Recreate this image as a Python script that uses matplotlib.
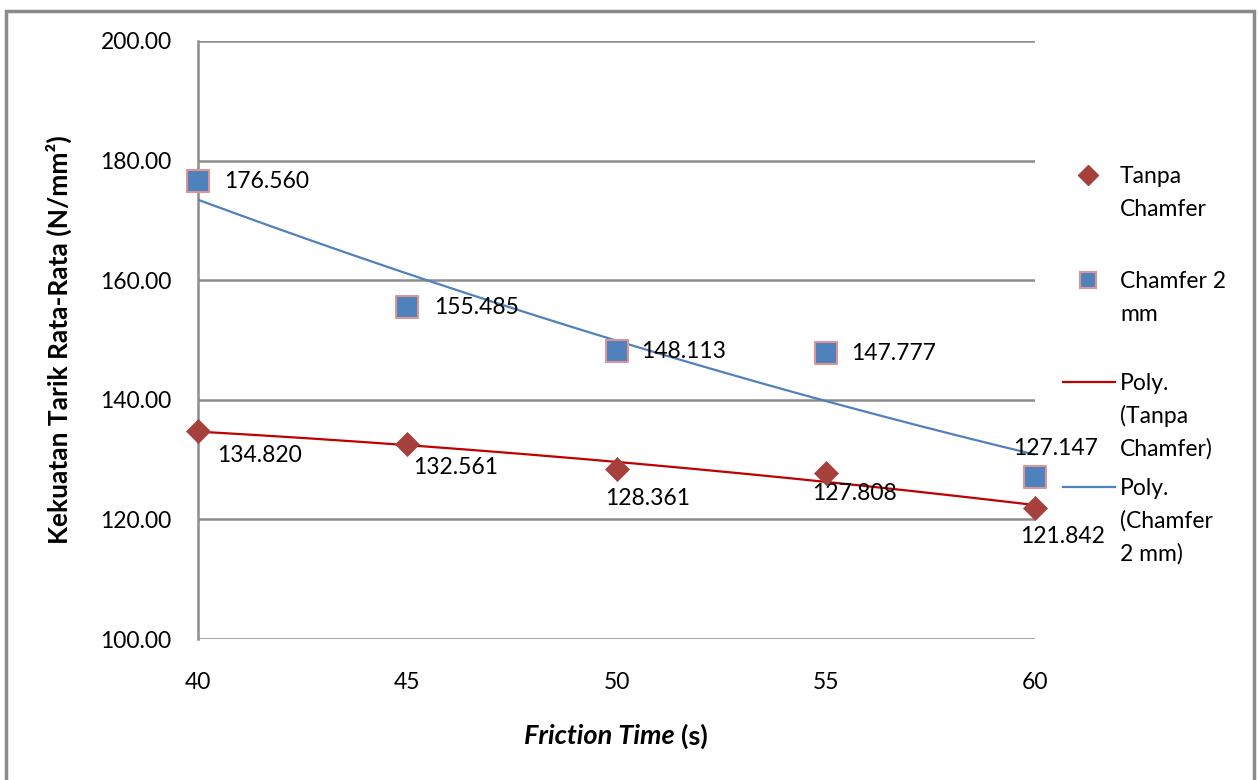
import numpy as np
import matplotlib.pyplot as plt
from matplotlib.patches import Rectangle
from matplotlib.lines import Line2D

plt.rcParams['font.family'] = ['Lato', 'DejaVu Sans']

friction_time = [40, 45, 50, 55, 60]
tanpa_chamfer = [134.820, 132.561, 128.361, 127.808, 121.842]
chamfer_2mm = [176.560, 155.485, 148.113, 147.777, 127.147]
y_ticks = [100, 120, 140, 160, 180, 200]
legend_labels = ['Tanpa\nChamfer', 'Chamfer 2\nmm', 'Poly.\n(Tanpa\nChamfer)', 'Poly.\n(Chamfer\n2 mm)']

# data label offsets in points (dx, dy) relative to each marker
red_offsets = [(14, -18), (4, -17), (-8, -21), (-10, -15), (-11, -20)]
blue_offsets = [(19, 0), (19, 0), (18, 0), (18, 0), (-16, 20)]

red = '#a5403c'
red_line = '#c00000'
blue = '#4f81bd'
blue_edge = '#d99694'
grid_gray = '#8c8c8c'
fs = 16.5
W, H = 1259, 780

fig = plt.figure(figsize=(W / 100, H / 100), dpi=100)
ax = fig.add_axes([198 / W, 1 - 639 / H, (1035 - 198) / W, (639 - 41) / H])

# chart border
fig.patches.append(Rectangle((6 / W, -0.01), 1248 / W, 1 - 11 / H + 0.01,
                             transform=fig.transFigure, fill=False,
                             edgecolor='#8a8a8a', linewidth=2.5))

# polynomial (order 2) trend lines
xs = np.linspace(40, 60, 200)
p_red = np.polyfit(friction_time, tanpa_chamfer, 2)
p_blue = np.polyfit(friction_time, chamfer_2mm, 2)
ax.plot(xs, np.polyval(p_red, xs), color=red_line, lw=1.6, zorder=3)
ax.plot(xs, np.polyval(p_blue, xs), color=blue, lw=1.6, zorder=3)

ax.scatter(friction_time, tanpa_chamfer, marker='D', s=150, color=red,
           edgecolors=red, linewidths=0.5, zorder=4, clip_on=False)
ax.scatter(friction_time, chamfer_2mm, marker='s', s=230, color=blue,
           edgecolors=blue_edge, linewidths=1.5, zorder=4, clip_on=False)

for x, y, (dx, dy) in zip(friction_time, tanpa_chamfer, red_offsets):
    ax.annotate(f'{y:.3f}', (x, y), xytext=(dx, dy), textcoords='offset points',
                ha='left', va='center', fontsize=fs, zorder=5)
for x, y, (dx, dy) in zip(friction_time, chamfer_2mm, blue_offsets):
    ax.annotate(f'{y:.3f}', (x, y), xytext=(dx, dy), textcoords='offset points',
                ha='left', va='center', fontsize=fs, zorder=5)

ax.set_xlim(40, 60)
ax.set_ylim(100, 200)
ax.set_xticks(friction_time)
ax.set_yticks(y_ticks)
ax.set_yticklabels([f'{v:.2f}' for v in y_ticks])
ax.tick_params(axis='both', length=0, labelsize=fs)
ax.tick_params(axis='x', pad=24)
ax.tick_params(axis='y', pad=19)
ax.grid(axis='y', color=grid_gray, lw=1.8)
ax.set_axisbelow(True)
for side in ['top', 'right', 'bottom']:
    ax.spines[side].set_visible(False)
ax.spines['left'].set_color(grid_gray)
ax.spines['left'].set_linewidth(1.8)

ax.set_ylabel('Kekuatan Tarik Rata-Rata (N/mm²)', fontsize=19, fontweight='bold',
              labelpad=20)

# x label: italic bold "Friction Time" followed by upright "(s)"
fig.text(681 / W, 1 - 736 / H, 'Friction Time ', fontsize=19.5, fontweight='bold',
         fontstyle='italic', ha='right', va='center')
fig.text(681 / W, 1 - 736 / H, '(s)', fontsize=19.5, fontweight='bold',
         ha='left', va='center')

# legend keys sit on the first line of each wrapped label
handles = [
    Line2D([1088 / W], [0], marker='D', ls='none', color=red, markersize=10),
    Line2D([1088 / W], [0], marker='s', ls='none', color=blue, markeredgecolor=blue_edge,
           markeredgewidth=1.5, markersize=12),
    Line2D([1063 / W, 1115 / W], [0, 0], color=red_line, lw=1.6),
    Line2D([1063 / W, 1115 / W], [0, 0], color=blue, lw=1.6),
]
first_line_y = [175, 280, 382, 487]
line_step = 33
for h, label, yy in zip(handles, legend_labels, first_line_y):
    h.set_ydata([1 - yy / H] * len(h.get_xdata()))
    h.set_transform(fig.transFigure)
    fig.add_artist(h)
    for i, part in enumerate(label.split('\n')):
        fig.text(1120 / W, 1 - (yy + 8 + i * line_step) / H, part, fontsize=fs,
                 ha='left', va='baseline')

fig.savefig('out.png', dpi=100)
